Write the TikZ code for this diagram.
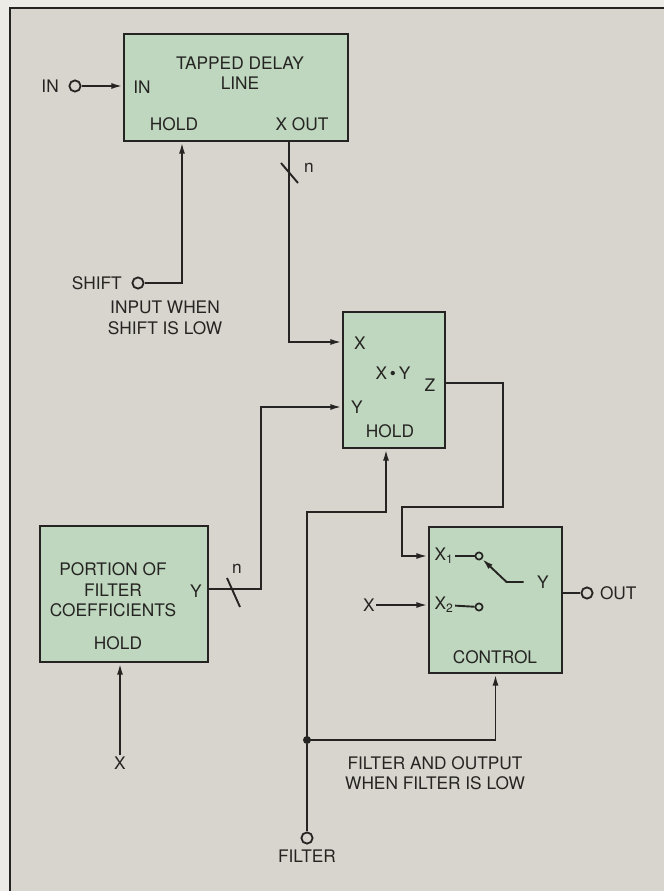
\documentclass[tikz,border=0pt]{standalone}
\usepackage{fontspec}
\setmainfont{TeX Gyre Heros}
\usetikzlibrary{arrows.meta,positioning}
\definecolor{paper}{RGB}{237,235,230}
\definecolor{panel}{RGB}{216,213,206}
\definecolor{boxgreen}{RGB}{190,215,190}
\definecolor{ink}{RGB}{38,36,34}

\begin{document}
\begin{tikzpicture}[
  x=0.025cm, y=-0.025cm,
  every node/.style={align=center, font=\fontsize{12.3}{14.6}\selectfont, text=ink, inner sep=1pt},
  block/.style={rectangle, draw=ink, line width=2pt, fill=boxgreen},
  term/.style={circle, draw=ink, line width=1.3pt, fill=panel, minimum size=0.28cm, inner sep=0pt},
  pin/.style={circle, draw=ink, line width=1.2pt, fill=boxgreen, minimum size=0.18cm, inner sep=0pt},
  dot/.style={circle, fill=ink, minimum size=0.2cm, inner sep=0pt},
  wire/.style={draw=ink, line width=1.35pt},
  arrow/.style={wire, -{Latex[length=2.8mm, width=1.5mm]}}
]

% --- PAGE AND PANEL ---
\useasboundingbox (0,0) rectangle (664,891);
\fill[paper] (0,0) rectangle (664,891);
\fill[panel] (10,8) rectangle (664,891);
\draw[ink, line width=1pt] (10,891) -- (10,8) -- (664,8);

% --- BLOCKS ---
\node[block, minimum width=5.6cm, minimum height=2.675cm] (dly) at (236,87.5) {};
\node[block, minimum width=2.55cm, minimum height=3.4cm] (mul) at (394,380) {};
\node[block, minimum width=4.2cm, minimum height=3.4cm] (coef) at (124,594) {};
\node[block, minimum width=3.325cm, minimum height=3.65cm] (ctrl) at (495.5,600) {};

% Tapped delay line
\node at (240,73) {TAPPED DELAY\\LINE};
\node (dlyin) at (142,87) {IN};
\node (dlyhold) at (174,124) {HOLD};
\node (dlyxout) at (302,124) {X OUT};

% Multiplier
\node (mulx) at (360,343) {X};
\node (mulxy) at (393,373) {X\,\textbullet\,Y};
\node (mulz) at (430,385) {Z};
\node (muly) at (357,407) {Y};
\node (mulhold) at (390,431) {HOLD};

% Coefficients
\node at (113,590) {PORTION OF\\FILTER\\COEFFICIENTS};
\node (coefy) at (196,591) {Y};
\node (coefhold) at (118,643) {HOLD};

% Output switch
\node (cx1) at (444,556) {X\textsubscript{1}};
\node (cx2) at (444,605) {X\textsubscript{2}};
\node[pin] (c1) at (479,556) {};
\node[pin] (c2) at (479,607) {};
\node (sw) at (543,582) {Y};
\node (ctrlname) at (495,657) {CONTROL};
\draw[wire] (cx1) -- (c1);
\draw[wire] (cx2) -- (c2);
\draw[arrow] (sw.west) ++(-12,0) -- ++(-17,0) -- (c1);

% --- INPUTS ---
\node[term] (in) at (75,86) {};
\node[left=0.2cm of in] {IN};
\draw[arrow] (in) -- (in -| dly.west);

\node[term] (shift) at (138,283) {};
\node[left=0.2cm of shift] {SHIFT};
\node at (165,318) {INPUT WHEN\\SHIFT IS LOW};
\draw[arrow] (shift) -| ([xshift=-1.35cm]dly.south);

\node (cx) at (120,763) {X};
\draw[arrow] (cx) -- (cx |- coef.south);

\node (xin) at (369,605) {X};
\draw[arrow] (xin) -- (xin -| ctrl.west);

% --- DATA PATHS ---
\draw[arrow] ([xshift=1.325cm]dly.south) |- ([yshift=0.95cm]mul.west);
\draw[wire] (281,163) -- (298,183);
\node at (309,168) {n};

\draw[arrow] ([yshift=0.125cm]coef.east) -- ++(52,0) |- ([yshift=-0.675cm]mul.west);
\draw[wire] (227,578) -- (240,607);
\node at (237,569) {n};

\draw[arrow] ([yshift=-0.075cm]mul.east) -- ++(57,0) -- ++(0,124) -- ++(-101,0) |- ([yshift=1.1cm]ctrl.west);

% --- OUTPUT ---
\node[term] (out) at (587,593) {};
\node[right=0.12cm of out] {OUT};
\draw[wire] (out -| ctrl.east) -- (out);

% --- FILTER LINE ---
\node[term] (filt) at (307,838) {};
\node[below=0.08cm of filt] {FILTER};
\node[dot] (jn) at (307,740) {};
\draw[wire] (filt) -- (jn);
\draw[arrow] (jn.center) -- ++(0,-228) -| ([xshift=-0.2cm]mul.south);
\draw[arrow] (jn.center) -| (ctrl.south);
\node at (435,773) {FILTER AND OUTPUT\\WHEN FILTER IS LOW};

\end{tikzpicture}
\end{document}
